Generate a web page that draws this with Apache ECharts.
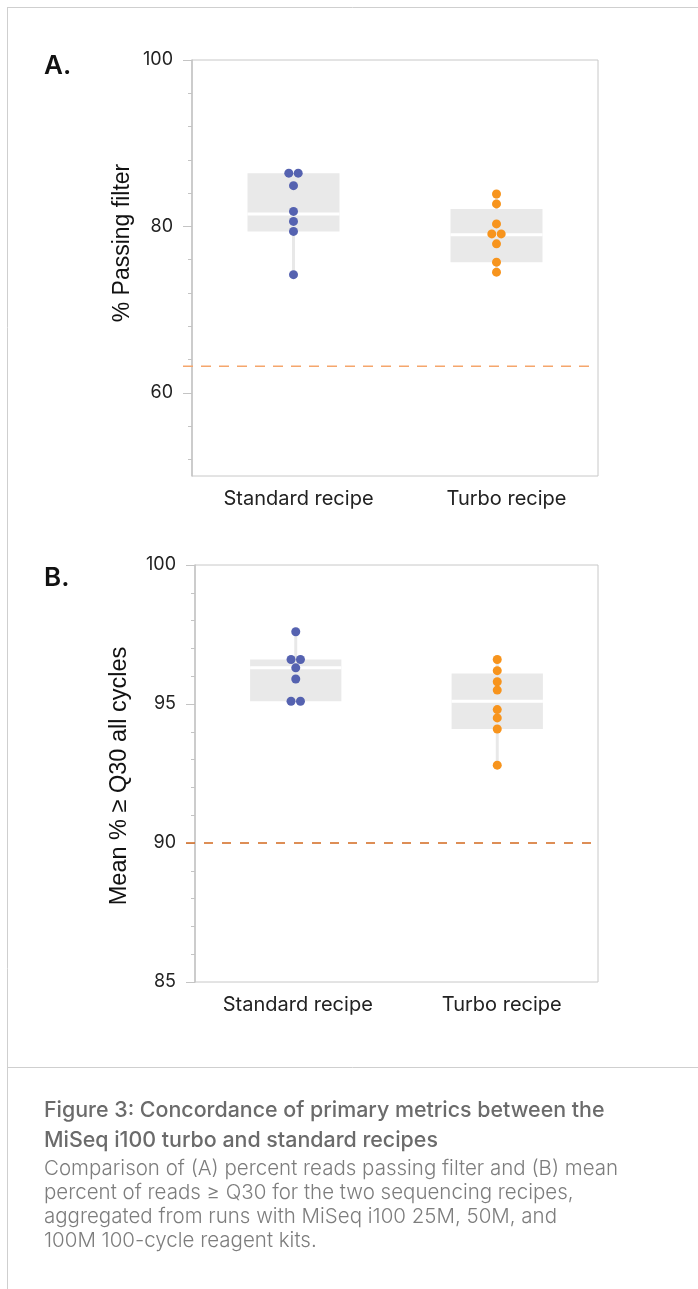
<!DOCTYPE html>
<html>
<head>
<meta charset="utf-8">
<script src="https://cdn.jsdelivr.net/npm/echarts@6/dist/echarts.min.js"></script>
<style>
  html, body { margin: 0; padding: 0; background: #fff; }
  #main { width: 698px; height: 1289px; }
</style>
</head>
<body>
<div id="main"></div>
<script>
// categories
const categories = ['Standard recipe', 'Turbo recipe'];

// A. % passing filter
const passFilterStandard = [86.4, 86.4, 84.9, 81.8, 80.6, 79.4, 74.2];
const passFilterTurbo = [83.9, 82.7, 80.3, 79.1, 79.1, 77.9, 75.7, 74.5];
// box stats: min, q1, median, q3, max
const passFilterBoxes = [[74.2, 79.4, 81.5, 86.4, 86.4], [74.5, 75.7, 79.0, 82.1, 83.9]];
const passFilterThreshold = 63.2;
const passFilterLabels = [60, 80, 100];
const passFilterTicks = [52, 56, 60, 64, 68, 72, 76, 80, 84, 88, 92, 96, 100];

// B. mean % >= Q30
const q30Standard = [97.6, 96.6, 96.6, 96.3, 95.9, 95.1, 95.1];
const q30Turbo = [96.6, 96.2, 95.8, 95.5, 94.8, 94.5, 94.1, 92.8];
const q30Boxes = [[95.1, 95.1, 96.3, 96.6, 97.6], [92.8, 94.1, 95.1, 96.1, 96.6]];
const q30Threshold = 90;
const q30Labels = [85, 90, 95, 100];
const q30Ticks = [85, 86, 87, 88, 89, 90, 91, 92, 93, 94, 95, 96, 97, 98, 99, 100];

const blue = '#5562b0';
const orange = '#f7941d';
const font = 'Inter, "Noto Sans", sans-serif';
const titleFont = '"Liberation Sans", Arial, sans-serif';

// spread tied values side by side
function dots(values, cat) {
  return values.map((v, i) => {
    const n = values.filter(w => w === v).length;
    let off = 0;
    if (n > 1) {
      const k = values.slice(0, i).filter(w => w === v).length;
      off = (k - (n - 1) / 2) * 9.4;
    }
    return { value: [cat, v], symbolOffset: [off, 0] };
  });
}

function renderBox(params, api) {
  const c = api.value(0);
  const lo = api.coord([c, api.value(1)]);
  const q1 = api.coord([c, api.value(2)]);
  const md = api.coord([c, api.value(3)]);
  const q3 = api.coord([c, api.value(4)]);
  const hi = api.coord([c, api.value(5)]);
  const w = api.size([1, 0])[0] * 0.453;
  const x = lo[0];
  return {
    type: 'group',
    children: [
      { type: 'line', shape: { x1: x, y1: lo[1], x2: x, y2: hi[1] },
        style: { stroke: '#e8e8e8', lineWidth: 3 } },
      { type: 'rect', shape: { x: x - w / 2, y: q3[1], width: w, height: q1[1] - q3[1] },
        style: { fill: '#e9e9e9' } },
      { type: 'line', shape: { x1: x - w / 2, y1: md[1], x2: x + w / 2, y2: md[1] },
        style: { stroke: '#fff', lineWidth: 3 } }
    ]
  };
}

function thresholdLine(color, dash, rightInset) {
  return function (params, api) {
    const y = api.coord([0, api.value(0)])[1];
    const cs = params.coordSys;
    return {
      type: 'line',
      shape: { x1: cs.x - 9, y1: y, x2: cs.x + cs.width - rightInset, y2: y },
      style: { stroke: color, lineWidth: 1.5, lineDash: dash }
    };
  };
}

function xAxis(gridIndex, pads) {
  const st = { fontSize: 20, fontFamily: font, color: '#222' };
  return {
    type: 'category', gridIndex: gridIndex, data: categories,
    axisLine: { show: false }, axisTick: { show: false },
    axisLabel: {
      interval: 0, margin: 13, color: '#222', fontSize: 20, fontFamily: font,
      formatter: v => (v === categories[0] ? '{s|' + v + '}' : '{t|' + v + '}'),
      rich: {
        s: Object.assign({ padding: [0, 0, 0, pads[0]] }, st),
        t: Object.assign({ padding: [0, 0, 0, pads[1]] }, st)
      }
    }
  };
}

function yAxes(gridIndex, min, max, ticks, labels) {
  return [
    {
      type: 'value', gridIndex: gridIndex, position: 'left', min: min, max: max,
      splitLine: { show: false },
      axisLine: { show: true, lineStyle: { color: '#c4c4c4', width: 1.5 } },
      axisTick: { show: true, length: 4, customValues: ticks, lineStyle: { color: '#c4c4c4' } },
      axisLabel: { show: false }
    },
    {
      type: 'value', gridIndex: gridIndex, position: 'left', offset: 0, min: min, max: max,
      splitLine: { show: false },
      axisLine: { show: false },
      axisTick: { show: true, length: 9, customValues: labels, lineStyle: { color: '#c4c4c4' } },
      axisLabel: { show: true, customValues: labels, margin: 19, color: '#222', fontSize: 18, fontFamily: font }
    }
  ];
}

const chart = echarts.init(document.getElementById('main'));

const caption = [
  'Comparison of (A) percent reads passing filter and (B) mean',
  'percent of reads \u2265 Q30 for the two sequencing recipes,',
  'aggregated from runs with MiSeq i100 25M, 50M, and',
  '100M 100-cycle reagent kits.'
];

chart.setOption({
  animation: false,
  grid: [
    { left: 192, top: 60, width: 406, height: 416, show: true, borderColor: '#c8c8c8', borderWidth: 1 },
    { left: 195, top: 565, width: 403, height: 417, show: true, borderColor: '#c8c8c8', borderWidth: 1 }
  ],
  xAxis: [xAxis(0, [10, 20]), xAxis(1, [4, 9])],
  yAxis: yAxes(0, 50, 100, passFilterTicks, passFilterLabels).concat(yAxes(1, 85, 100, q30Ticks, q30Labels)),
  series: [
    { type: 'custom', xAxisIndex: 0, yAxisIndex: 0, renderItem: renderBox, z: 1,
      data: passFilterBoxes.map((b, i) => [i].concat(b)) },
    { type: 'custom', xAxisIndex: 0, yAxisIndex: 0, z: 3, clip: false,
      renderItem: thresholdLine('#f5a66c', [10, 8], 8), data: [[passFilterThreshold]] },
    { type: 'scatter', xAxisIndex: 0, yAxisIndex: 0, symbolSize: 9, z: 4,
      itemStyle: { color: blue, opacity: 1 }, data: dots(passFilterStandard, 0) },
    { type: 'scatter', xAxisIndex: 0, yAxisIndex: 0, symbolSize: 9, z: 4,
      itemStyle: { color: orange, opacity: 1 }, data: dots(passFilterTurbo, 1) },

    { type: 'custom', xAxisIndex: 1, yAxisIndex: 2, renderItem: renderBox, z: 1,
      data: q30Boxes.map((b, i) => [i].concat(b)) },
    { type: 'custom', xAxisIndex: 1, yAxisIndex: 2, z: 3, clip: false,
      renderItem: thresholdLine('#d2691f', [9, 9], 6), data: [[q30Threshold]] },
    { type: 'scatter', xAxisIndex: 1, yAxisIndex: 2, symbolSize: 9, z: 4,
      itemStyle: { color: blue, opacity: 1 }, data: dots(q30Standard, 0) },
    { type: 'scatter', xAxisIndex: 1, yAxisIndex: 2, symbolSize: 9, z: 4,
      itemStyle: { color: orange, opacity: 1 }, data: dots(q30Turbo, 1) }
  ],
  graphic: [
    // page frame
    { type: 'line', shape: { x1: 7, y1: 7.5, x2: 698, y2: 7.5 }, style: { stroke: '#cfcfcf', lineWidth: 1 } },
    { type: 'line', shape: { x1: 7.5, y1: 7, x2: 7.5, y2: 1289 }, style: { stroke: '#cfcfcf', lineWidth: 1 } },
    { type: 'line', shape: { x1: 7, y1: 1067.5, x2: 698, y2: 1067.5 }, style: { stroke: '#cfcfcf', lineWidth: 1 } },
    // panel letters
    { type: 'text', x: 44, y: 66, style: { text: 'A.', font: '600 26px ' + font, fill: '#111', verticalAlign: 'middle' } },
    { type: 'text', x: 44, y: 578, style: { text: 'B.', font: '600 26px ' + font, fill: '#111', verticalAlign: 'middle' } },
    // axis titles
    { type: 'text', x: 123, y: 243, rotation: Math.PI / 2,
      style: { text: '% Passing filter', font: '23px ' + titleFont, fill: '#111', align: 'center', verticalAlign: 'middle' } },
    { type: 'text', x: 120, y: 776, rotation: Math.PI / 2,
      style: { text: 'Mean % \u2265 Q30 all cycles', font: '23.5px ' + titleFont, fill: '#111', align: 'center', verticalAlign: 'middle' } },
    // caption
    { type: 'text', x: 44, y: 1111,
      style: { text: 'Figure 3: Concordance of primary metrics between the', font: '500 21.4px ' + font, fill: '#6b6b6b', verticalAlign: 'middle' } },
    { type: 'text', x: 44, y: 1141,
      style: { text: 'MiSeq i100 turbo and standard recipes', font: '500 21.4px ' + font, fill: '#6b6b6b', verticalAlign: 'middle' } }
  ].concat(caption.map((t, i) => ({
    type: 'text', x: 44, y: 1169 + i * 24,
    style: { text: t, font: '300 20.5px ' + font, fill: '#7d7d7d', verticalAlign: 'middle' }
  })))
});
</script>
</body>
</html>
